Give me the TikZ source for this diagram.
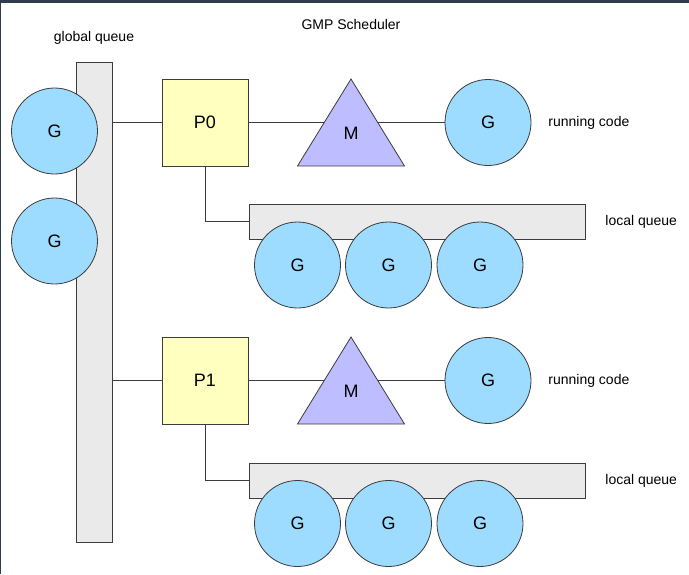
\documentclass[tikz,border=0pt]{standalone}
\usepackage{fontspec}
\setmainfont{Liberation Sans}
\usetikzlibrary{backgrounds}
\definecolor{gfill}{HTML}{9DDCFF}
\definecolor{pfill}{HTML}{FFFFC0}
\definecolor{mfill}{HTML}{BDBDFF}
\definecolor{qfill}{HTML}{EAEAEA}
\definecolor{edge}{HTML}{3C3C3C}
\definecolor{frame}{HTML}{2F3D4C}
\begin{document}
\begin{tikzpicture}[
    x=1pt, y=-1pt,
    goro/.style={circle, draw=edge, fill=gfill, minimum size=86pt, inner sep=0pt, font=\fontsize{18}{20}\selectfont},
    proc/.style={draw=edge, fill=pfill, minimum width=86pt, minimum height=87pt, inner sep=0pt, font=\fontsize{18}{20}\selectfont},
    mach/.style={draw=edge, fill=mfill},
    queue/.style={draw=edge, fill=qfill, inner sep=0pt},
    note/.style={inner sep=0pt, font=\fontsize{14}{16}\selectfont},
    line width=0.8pt
]
    \useasboundingbox (0,0) rectangle (689,574);
    \fill[frame] (0,0) rectangle (689,3);
    \fill[frame] (0,0) rectangle (1,574);
    % Titles
    \node[note] (title) at (351,24) {GMP Scheduler};
    \node[note] (gqtext) at (94,38) {global queue};
    % Queues
    \node[queue, minimum width=36pt, minimum height=480pt] (gq) at (94,302) {};
    \node[queue, minimum width=336pt, minimum height=35pt] (lq0) at (417,221.5) {};
    \node[queue, minimum width=336pt, minimum height=35pt] (lq1) at (417,480.5) {};
    % Global queue goroutines
    \node[goro] (g1) at (54.5,131) {G};
    \node[goro] (g2) at (54.5,241) {G};
    % First P
    \node[proc] (P0) at (205,122.5) {P0};
    \draw[mach] (351,79) -- (404.5,166) -- (297.5,166) -- cycle;
    \node[font=\fontsize{18}{20}\selectfont] (M0) at (351,133) {M};
    \node[goro] (r0) at (488,122.5) {G};
    \node[goro] (l0a) at (297.5,265) {G};
    \node[goro] (l0b) at (388.5,265) {G};
    \node[goro] (l0c) at (480,265) {G};
    \node[note, anchor=west] (rc0) at (548,123) {running code};
    \node[note, anchor=west] (lqt0) at (605,222) {local queue};
    % Second P
    \node[proc] (P1) at (205,380.5) {P1};
    \draw[mach] (351,337) -- (404.5,424) -- (297.5,424) -- cycle;
    \node[font=\fontsize{18}{20}\selectfont] (M1) at (351,391) {M};
    \node[goro] (r1) at (488,380.5) {G};
    \node[goro] (l1a) at (297.5,523.5) {G};
    \node[goro] (l1b) at (388.5,523.5) {G};
    \node[goro] (l1c) at (480,523.5) {G};
    \node[note, anchor=west] (rc1) at (548,381) {running code};
    \node[note, anchor=west] (lqt1) at (605,481) {local queue};
    % Links
    \begin{scope}[on background layer]
        \draw[edge] (gq.east |- P0) -- (P0);
        \draw[edge] (P0) -- (r0);
        \draw[edge] (P0) |- (lq0);
        \draw[edge] (gq.east |- P1) -- (P1);
        \draw[edge] (P1) -- (r1);
        \draw[edge] (P1) |- (lq1);
    \end{scope}
\end{tikzpicture}
\end{document}
